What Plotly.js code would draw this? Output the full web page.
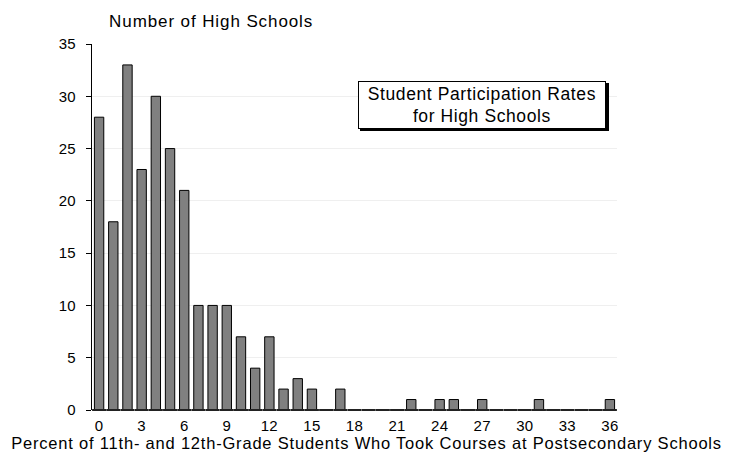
<!DOCTYPE html>
<html><head><meta charset="utf-8">
<script src="https://cdn.plot.ly/plotly-3.0.1.min.js"></script>
<style>
html,body{margin:0;padding:0;background:#fff}
#c{width:739px;height:463px}
#c .xtick text, #c .ytick text{letter-spacing:0.3px}
#c .annotation[data-index="0"] text{letter-spacing:0.9px}
#c .annotation[data-index="1"] text{letter-spacing:0.8px}
#c .annotation[data-index="2"] text{letter-spacing:0.6px}
</style>
</head><body><div id="c"></div>
<script>
const percents = [0,1,2,3,4,5,6,7,8,9,10,11,12,13,14,15,16,17,18,19,20,21,22,23,24,25,26,27,28,29,30,31,32,33,34,35,36];
const schoolCounts = [28,18,33,23,30,25,21,10,10,10,7,4,7,2,3,2,0,2,0,0,0,0,1,0,1,1,0,1,0,0,0,1,0,0,0,0,1];
const xTicks = [0,3,6,9,12,15,18,21,24,27,30,33,36];
const yTicks = [0,5,10,15,20,25,30,35];

const fam = 'Liberation Sans, Arial, sans-serif';
const tickFont = {family: fam, size: 15, color: '#000'};
const L = 92, R = 122, T = 44, B = 53, W = 739, H = 463;
const pw = W - L - R, ph = H - T - B;
const px = v => (v - L) / pw;
const py = v => 1 - (v - T) / ph;

Plotly.newPlot('c', [{
  type: 'bar', x: percents, y: schoolCounts,
  marker: {color: '#808080', line: {color: '#000', width: 1}},
  hoverinfo: 'skip'
}, {
  type: 'scatter', mode: 'markers', x: percents, y: percents.map(() => 0),
  marker: {symbol: 'line-ew', size: 10, line: {color: '#222', width: 2}},
  cliponaxis: false, hoverinfo: 'skip'
}], {
  width: W, height: H,
  margin: {l: L, r: R, t: T, b: B, pad: 0},
  paper_bgcolor: '#fff', plot_bgcolor: '#fff',
  bargap: 0.34,
  font: tickFont,
  showlegend: false,
  xaxis: {range: [-0.5, 36.5], tickvals: xTicks, ticktext: xTicks.map(String),
          showgrid: false, zeroline: false, showline: false, ticks: '',
          ticklabelstandoff: 5, tickfont: tickFont},
  yaxis: {range: [0, 35], tickvals: yTicks, ticktext: yTicks.map(String),
          showgrid: true, gridcolor: '#efefef', gridwidth: 1, zeroline: false,
          showline: true, linecolor: '#000', linewidth: 1, ticks: 'outside', ticklen: 5,
          tickcolor: '#000', ticklabelstandoff: 7, tickfont: tickFont},
  shapes: [
    {type: 'rect', xref: 'paper', yref: 'paper',
     x0: px(360), x1: px(609), y0: py(131), y1: py(83),
     fillcolor: '#000', line: {width: 0}, layer: 'above'}
  ],
  annotations: [
    {text: 'Number of High Schools', xref: 'paper', yref: 'paper',
     x: px(211), y: py(21), xanchor: 'center', yanchor: 'middle',
     showarrow: false, font: {family: fam, size: 17, color: '#000'}},
    {text: 'Percent of 11th- and 12th-Grade Students Who Took Courses at Postsecondary Schools',
     xref: 'paper', yref: 'paper', x: px(366), y: py(443),
     xanchor: 'center', yanchor: 'middle', showarrow: false,
     font: {family: fam, size: 16.5, color: '#000'}},
    {text: 'Student Participation Rates<br>for High Schools', xref: 'paper', yref: 'paper',
     x: px(482), y: py(105), xanchor: 'center', yanchor: 'middle',
     width: 246, height: 46, showarrow: false, bgcolor: '#fff', bordercolor: '#000',
     borderwidth: 1, borderpad: 0, font: {family: fam, size: 17.5, color: '#000'}}
  ]
}, {staticPlot: true});
</script></body></html>
